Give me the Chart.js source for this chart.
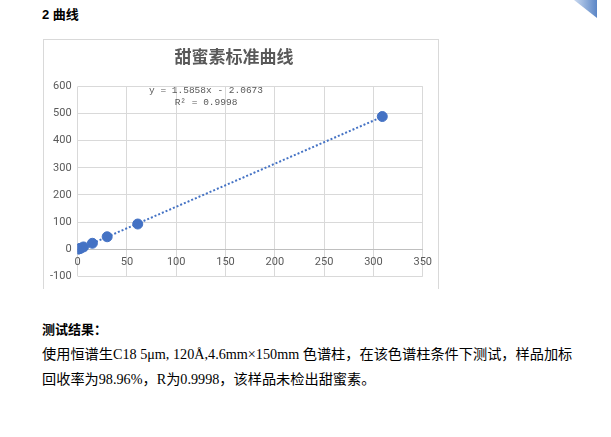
<!DOCTYPE html>
<html>
<head>
<meta charset="utf-8">
<script src="https://cdn.jsdelivr.net/npm/chart.js@4/dist/chart.umd.min.js"></script>
<style>
    body { margin: 0; width: 611px; height: 437px; background: #fff; position: relative; overflow: hidden;
           font-family: "Liberation Serif", "Noto Sans CJK SC", serif; color: #000; }
    .heading { position: absolute; left: 42px; top: 4px; font: bold 13px "Liberation Sans", "Noto Sans CJK SC", sans-serif; }
    .corner { position: absolute; left: 574px; top: 0; width: 23px; height: 18px;
              background: linear-gradient(to right, #c9d9f0, #5b86c6);
              clip-path: polygon(0 0, 100% 0, 100% 100%); }
    .frame { position: absolute; left: 43px; top: 39px; width: 394px; height: 249px;
             border: 1px solid #d9d9d9; border-bottom: none; }
    .result { position: absolute; left: 42px; top: 319px; font: bold 13px "Liberation Sans", "Noto Sans CJK SC", sans-serif; }
    .para { position: absolute; left: 42px; top: 342px; font-size: 14.2px; line-height: 25px; white-space: nowrap; }
</style>
</head>
<body>
<div class="heading">2 曲线</div>
<div class="corner"></div>
<div class="frame"><canvas id="curveChart" width="394" height="249"></canvas></div>
<div class="result">测试结果：</div>
<div class="para">使用恒谱生C18 5μm, 120Å,4.6mm×150mm 色谱柱，在该色谱柱条件下测试，样品加标<br>回收率为98.96%，R为0.9998，该样品未检出甜蜜素。</div>

<script>
// ============================================
// 甜蜜素标准曲线 (cyclamate standard curve)
// ============================================

const chartTitle = '甜蜜素标准曲线';
const concX = [0.6, 1.5, 3, 6, 15, 30, 61, 309];
const areaY = [0.5, 1.8, 3.5, 8.5, 22, 46, 93, 489];
const trendX = [0, 309];
const trendY = [-2, 488];
const equationLines = ['y = 1.5858x - 2.0673', 'R² = 0.9998'];
const xTicks = [0, 50, 100, 150, 200, 250, 300, 350];
const yTicks = [-100, 0, 100, 200, 300, 400, 500, 600];

const BLUE = '#4472C4';
const GREY_TEXT = '#595959';
const GRID = '#d9d9d9';

// equation label, drawn like the Excel trendline label
const equationPlugin = {
    id: 'equationLabel',
    afterDraw(chart) {
        const ctx = chart.ctx;
        ctx.save();
        ctx.font = '9.5px "Liberation Mono", monospace';
        ctx.fillStyle = GREY_TEXT;
        ctx.textAlign = 'center';
        ctx.textBaseline = 'middle';
        ctx.fillText(equationLines[0], 162, 50);
        ctx.fillText(equationLines[1], 162, 62);
        ctx.restore();
    }
};

const ctx = document.getElementById('curveChart').getContext('2d');
new Chart(ctx, {
    type: 'scatter',
    data: {
        datasets: [
            {
                label: 'trend',
                data: trendX.map((x, i) => ({ x: x, y: trendY[i] })),
                showLine: true,
                borderColor: BLUE,
                borderWidth: 2,
                borderDash: [2, 2],
                pointRadius: 0,
                fill: false
            },
            {
                label: 'points',
                data: concX.map((x, i) => ({ x: x, y: areaY[i] })),
                backgroundColor: BLUE,
                borderColor: BLUE,
                pointRadius: 5,
                pointHoverRadius: 5
            }
        ]
    },
    options: {
        responsive: false,
        animation: false,
        layout: { padding: { left: 0, right: 14, top: 0, bottom: 4 } },
        plugins: {
            legend: { display: false },
            tooltip: { enabled: false },
            title: {
                display: true,
                text: chartTitle,
                color: GREY_TEXT,
                font: { family: '"Noto Sans CJK SC", sans-serif', size: 17, weight: 'bold' },
                padding: { top: 6, bottom: 20 }
            }
        },
        scales: {
            x: {
                type: 'linear',
                position: { y: 0 },
                min: 0,
                max: 350,
                afterBuildTicks: axis => { axis.ticks = xTicks.map(v => ({ value: v })); },
                grid: { color: GRID, drawTicks: false },
                border: { color: '#bfbfbf' },
                ticks: { color: GREY_TEXT, font: { family: 'Roboto, sans-serif', size: 11 }, padding: 6 }
            },
            y: {
                type: 'linear',
                min: -100,
                max: 600,
                afterBuildTicks: axis => { axis.ticks = yTicks.map(v => ({ value: v })); },
                grid: { color: GRID, drawTicks: false },
                border: { display: false },
                ticks: { color: GREY_TEXT, font: { family: 'Roboto, sans-serif', size: 11 }, padding: 6 }
            }
        }
    },
    plugins: [equationPlugin]
});
</script>
</body>
</html>
